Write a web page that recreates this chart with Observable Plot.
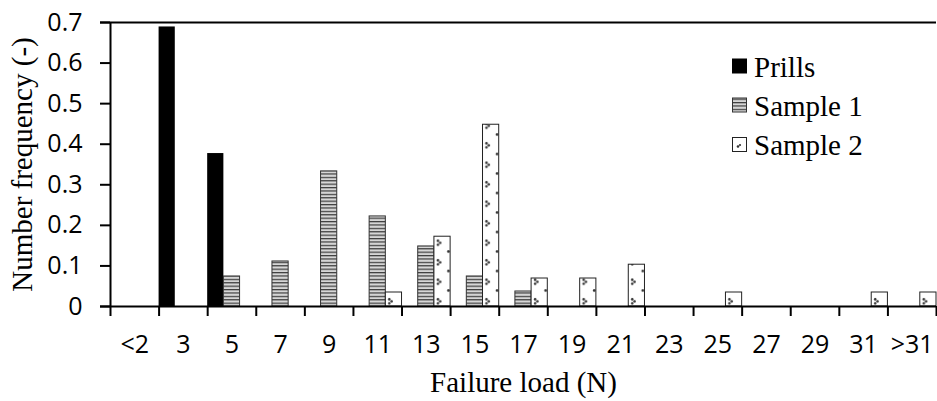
<!DOCTYPE html>
<html>
<head>
<meta charset="utf-8">
<script src="https://cdn.jsdelivr.net/npm/d3@7"></script>
<script src="https://cdn.jsdelivr.net/npm/@observablehq/plot@0.6"></script>
<style>
  html, body { margin: 0; padding: 0; background: #fff; }
  #chart svg { display: block; }
</style>
</head>
<body>
<div id="chart"></div>
<script>
const categories = ["<2", "3", "5", "7", "9", "11", "13", "15", "17", "19", "21", "23", "25", "27", "29", "31", ">31"];
const seriesNames = ["Prills", "Sample 1", "Sample 2"];
const prills  = [0, 0.689, 0.377, 0, 0, 0, 0, 0, 0, 0, 0, 0, 0, 0, 0, 0, 0];
const sample1 = [0, 0, 0.074, 0.111, 0.333, 0.222, 0.148, 0.074, 0.037, 0, 0, 0, 0, 0, 0, 0, 0];
const sample2 = [0, 0, 0, 0, 0, 0.0345, 0.172, 0.448, 0.069, 0.069, 0.103, 0, 0.0345, 0, 0, 0.0345, 0.0345];
const yTicks = [0, 0.1, 0.2, 0.3, 0.4, 0.5, 0.6, 0.7];
const xTitle = "Failure load (N)";
const yTitle = "Number frequency (-)";

const seriesValues = [prills, sample1, sample2];
const rows = seriesNames.map((s, j) =>
  categories.map((c, i) => ({cat: c, i, j, series: s, value: seriesValues[j][i]})).filter(d => d.value > 0)
);

const W = 937, H = 401, ML = 110, MR = 1, MT = 22, MB = 95;
const barW = (W - ML - MR) / (categories.length * 3);
const sans = "'Open Sans', sans-serif";
const serif = "'Liberation Serif', 'Times New Roman', serif";

const barOpts = {
  x1: d => d.i + d.j / 3,
  x2: d => d.i + (d.j + 1) / 3,
  y: "value"
};

const plot = Plot.plot({
  width: W, height: H,
  marginLeft: ML, marginRight: MR, marginTop: MT, marginBottom: MB,
  style: {background: "#fff", color: "#000"},
  x: {domain: [0, categories.length], axis: null},
  y: {domain: [0, 0.7], axis: null},
  marks: [
    Plot.rectY(rows[0], {...barOpts, fill: "#000"}),
    Plot.rectY(rows[1], {...barOpts, fill: "url(#stripes)", stroke: "#333", strokeWidth: 1}),
    Plot.rectY(rows[2], {...barOpts, fill: "url(#dots)", stroke: "#222", strokeWidth: 1}),
    Plot.ruleY([0, 0.7], {stroke: "#000", strokeWidth: 2, insetLeft: -10}),
    Plot.ruleX([0], {stroke: "#000", strokeWidth: 2}),
    Plot.axisX({ticks: d3.range(categories.length + 1), tickSize: 10, tickFormat: () => "", strokeWidth: 2, label: null}),
    Plot.axisX({ticks: categories.map((c, i) => i + 0.5), tickSize: 0, tickPadding: 29,
      tickFormat: d => categories[Math.floor(d)], fontSize: 25, fontFamily: sans, label: null}),
    Plot.axisY({ticks: yTicks, tickSize: 10, tickPadding: 18, strokeWidth: 2,
      tickFormat: d => d === 0 ? "0" : d.toFixed(1), fontSize: 25, fontFamily: sans, label: null}),
    Plot.text([xTitle], {frameAnchor: "bottom", dy: 85, lineAnchor: "bottom", fontSize: 29, fontFamily: serif}),
    Plot.text([yTitle], {frameAnchor: "left", dx: -88, rotate: -90, textAnchor: "middle", lineAnchor: "middle", fontSize: 29, fontFamily: serif})
  ]
});

const ns = "http://www.w3.org/2000/svg";
const defs = document.createElementNS(ns, "defs");
defs.innerHTML = `
  <pattern id="stripes" patternUnits="userSpaceOnUse" x="0" y="0" width="8" height="3.4">
    <rect width="8" height="3.4" fill="#d6d6d6"/>
    <rect y="0" width="8" height="1.2" fill="#3a3a3a"/>
  </pattern>
  <pattern id="dots" patternUnits="userSpaceOnUse" x="${ML}" y="${MT}" width="${barW}" height="19.5">
    <rect width="${barW}" height="19.5" fill="#fff"/>
    <circle cx="4" cy="4.3" r="1.3" fill="#333"/>
    <circle cx="6.3" cy="6.3" r="1.3" fill="#333"/>
    <circle cx="4" cy="8.3" r="1.3" fill="#333"/>
    <circle cx="${barW - 1.6}" cy="15" r="1.4" fill="#333"/>
  </pattern>`;
plot.insertBefore(defs, plot.firstChild);

// legend
const legend = document.createElementNS(ns, "g");
legend.setAttribute("text-anchor", "start");
const legendItems = [
  {name: seriesNames[0], fill: "#000", stroke: "#000", y: 59, ty: 77},
  {name: seriesNames[1], fill: "url(#stripes)", stroke: "#333", y: 98, ty: 116},
  {name: seriesNames[2], fill: "#fff", stroke: "#222", y: 137.5, ty: 155}
];
legendItems.forEach((it, k) => {
  const r = document.createElementNS(ns, "rect");
  r.setAttribute("x", 732.5); r.setAttribute("y", it.y);
  r.setAttribute("width", 14); r.setAttribute("height", 14);
  r.setAttribute("fill", it.fill); r.setAttribute("stroke", it.stroke);
  legend.appendChild(r);
  if (k === 2) {
    const c = document.createElementNS(ns, "circle");
    c.setAttribute("cx", 738); c.setAttribute("cy", it.y + 9); c.setAttribute("r", 1.3); c.setAttribute("fill", "#333");
    legend.appendChild(c);
    const c2 = document.createElementNS(ns, "circle");
    c2.setAttribute("cx", 740); c2.setAttribute("cy", it.y + 7.5); c2.setAttribute("r", 1.1); c2.setAttribute("fill", "#333");
    legend.appendChild(c2);
  }
  const t = document.createElementNS(ns, "text");
  t.setAttribute("x", 754); t.setAttribute("y", it.ty);
  t.setAttribute("text-anchor", "start");
  t.setAttribute("font-family", serif); t.setAttribute("font-size", 29);
  t.setAttribute("fill", "#000");
  t.textContent = it.name;
  legend.appendChild(t);
});
plot.appendChild(legend);

document.getElementById("chart").appendChild(plot);
</script>
</body>
</html>
